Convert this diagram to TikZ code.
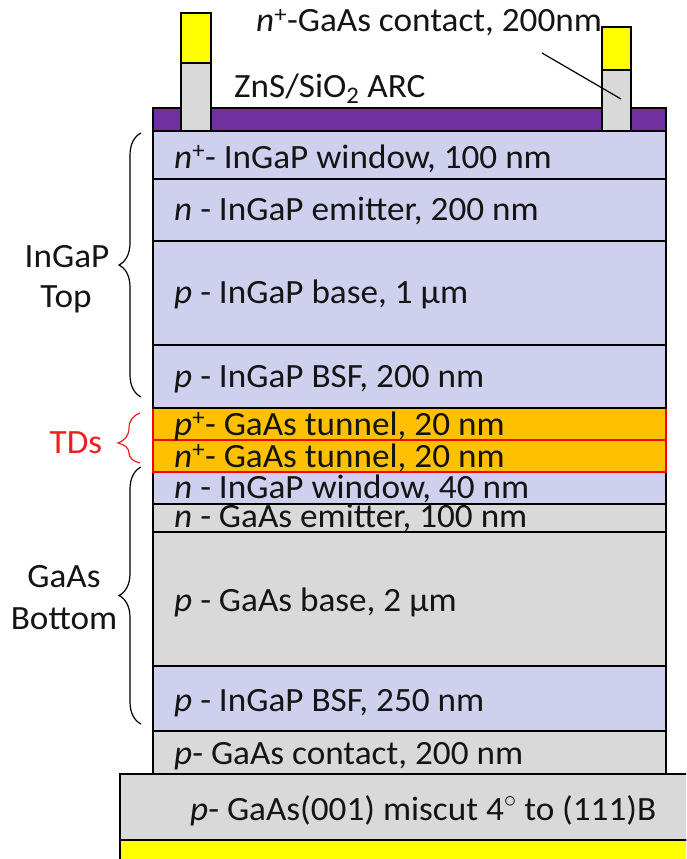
\documentclass[tikz,border=0pt]{standalone}
\usepackage{fontspec}
\setmainfont{Carlito}[FakeStretch=1.035]
\usetikzlibrary{decorations.pathreplacing}
\definecolor{lav}{RGB}{207,208,238}
\definecolor{gry}{RGB}{217,217,217}
\definecolor{org}{RGB}{255,192,0}
\definecolor{pur}{RGB}{112,48,160}
\definecolor{yel}{RGB}{255,255,0}
\definecolor{txt}{RGB}{20,20,20}
\definecolor{tdred}{RGB}{240,30,30}
\begin{document}
\begin{tikzpicture}[x=1pt,y=-1pt,
  lay/.style={draw=black,line width=1.6pt},
  tun/.style={draw=red,fill=org,line width=1.6pt},
  lbl/.style={anchor=base west,font=\fontsize{34}{37}\selectfont,inner sep=0pt,text=txt},
  side/.style={anchor=base,font=\fontsize{34}{37}\selectfont,inner sep=0pt,text=txt},
  bracestyle/.style={decorate,decoration={brace,amplitude=22pt,aspect=#1},line width=1.2pt},
  lead/.style={draw=black,line width=1.2pt}]
\useasboundingbox (0,0) rectangle (686,859);
\clip (0,0) rectangle (686,859);
% substrate and back contact
\path[lay,fill=yel] (120,840) rectangle (700,870);
\path[lay,fill=gry] (120,774) rectangle (700,840);
% layers
\path[lay,fill=gry] (153,731) rectangle (666,774);
\path[lay,fill=lav] (153,666) rectangle (666,731);
\path[lay,fill=gry] (153,532) rectangle (666,666);
\path[lay,fill=gry] (153,504) rectangle (666,532);
\path[lay,fill=lav] (153,472) rectangle (666,504);
\path[tun] (153,440) rectangle (666,472);
\path[tun] (153,408) rectangle (666,440);
\path[lay,fill=lav] (153,345) rectangle (666,408);
\path[lay,fill=lav] (153,241) rectangle (666,345);
\path[lay,fill=lav] (153,179) rectangle (666,241);
\path[lay,fill=lav] (153,131) rectangle (666,179);
% ARC
\path[lay,fill=pur] (153,108) rectangle (666,131);
% contacts
\path[lay,fill=gry] (181,63) rectangle (211,131);
\path[lay,fill=yel] (181,13) rectangle (211,63);
\path[lay,fill=gry] (602,70) rectangle (631,131);
\path[lay,fill=yel] (602,27) rectangle (631,70);
% layer labels
\node[lbl] (t1) at (174,168) {\textit{n}\textsuperscript{+}- InGaP window, 100 nm};
\node[lbl] (t2) at (174,220) {\textit{n} - InGaP emitter, 200 nm};
\node[lbl] (t3) at (174,303) {\textit{p} - InGaP base, 1 μm};
\node[lbl] (t4) at (174,387) {\textit{p} - InGaP BSF, 200 nm};
\node[lbl] (t5) at (174,435) {\textit{p}\textsuperscript{+}- GaAs tunnel, 20 nm};
\node[lbl] (t6) at (174,467) {\textit{n}\textsuperscript{+}- GaAs tunnel, 20 nm};
\node[lbl] (t7) at (174,498) {\textit{n} - InGaP window, 40 nm};
\node[lbl] (t8) at (174,527) {\textit{n} - GaAs emitter, 100 nm};
\node[lbl] (t9) at (174,611) {\textit{p} - GaAs base, 2 μm};
\node[lbl] (t10) at (174,711) {\textit{p} - InGaP BSF, 250 nm};
\node[lbl] (t11) at (174,764) {\textit{p}- GaAs contact, 200 nm};
\node[lbl] (t12) at (190,820) {\textit{p}- GaAs(001) miscut 4\raisebox{13pt}{\fontsize{26}{26}\selectfont$\circ$} to (111)B};
% top labels
\node[lbl] (ct) at (256,32) {\textit{n}\textsuperscript{+}-GaAs contact, 200nm};
\node[lbl] (arc) at (234,97) {ZnS/SiO\textsubscript{2} ARC};
\coordinate (la) at (542,53);
\coordinate (lb) at (621,99);
\draw[lead] (la) -- (lb);
% side labels and braces
\node[side] (s1) at (67,267) {InGaP};
\node[side] (s2) at (66,307) {Top};
\node[side] (s3) at (64,587) {GaAs};
\node[side] (s4) at (64,629) {Bottom};
\node[side,text=tdred] (s5) at (76,453) {TDs};
\coordinate (b1a) at (141,397); \coordinate (b1b) at (141,133);
\coordinate (b2a) at (141,724); \coordinate (b2b) at (141,467);
\coordinate (b3a) at (140,463); \coordinate (b3b) at (140,413);
\draw[bracestyle=0.5] (b1a) -- (b1b);
\draw[bracestyle=0.5] (b2a) -- (b2b);
\draw[bracestyle=0.4,draw=tdred] (b3a) -- (b3b);
\end{tikzpicture}
\end{document}
